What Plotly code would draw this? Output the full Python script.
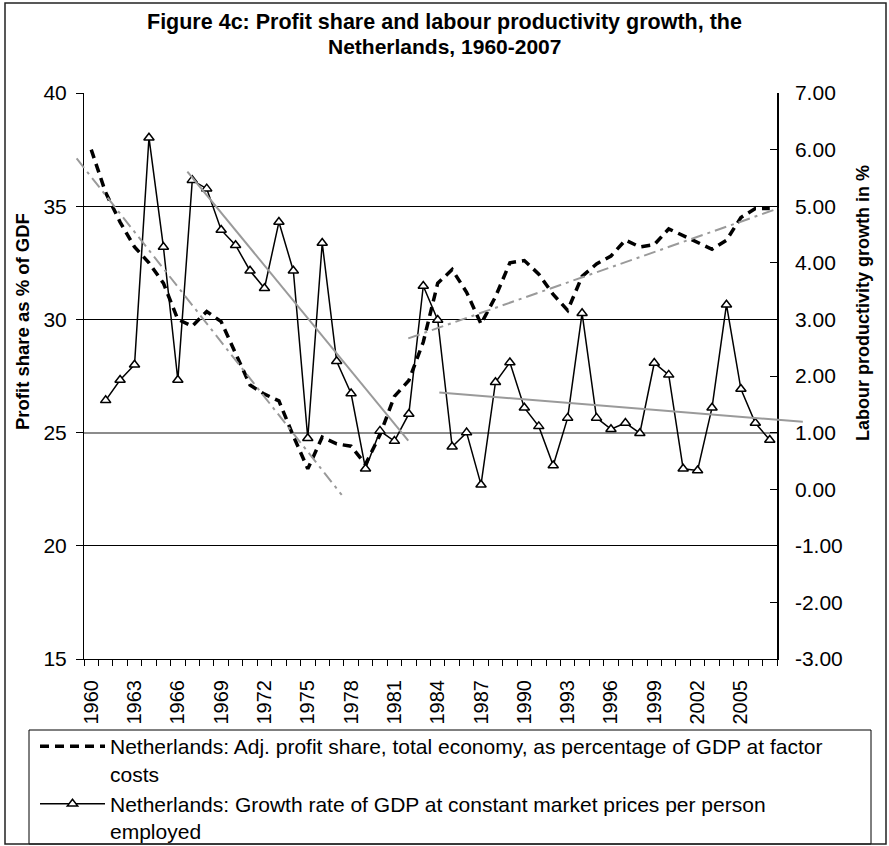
import plotly.graph_objects as go

# ---------------- data ----------------
years = list(range(1960, 2008))
profit_share = [37.5, 35.6, 34.3, 33.2, 32.5, 31.6, 30.0, 29.7, 30.35, 29.9,
                28.5, 27.1, 26.7, 26.4, 24.85, 23.4, 24.8, 24.5, 24.4, 23.6,
                24.9, 26.6, 27.3, 29.0, 31.6, 32.2, 31.2, 29.8, 31.0, 32.5,
                32.6, 32.0, 31.1, 30.4, 31.9, 32.45, 32.8, 33.5, 33.2, 33.3,
                34.0, 33.7, 33.4, 33.1, 33.5, 34.5, 34.9, 34.9]
productivity_growth = [None, 1.57, 1.93, 2.20, 6.21, 4.28, 1.93, 5.46, 5.31, 4.58,
                       4.31, 3.86, 3.55, 4.72, 3.86, 0.90, 4.35, 2.26, 1.69, 0.36,
                       1.03, 0.85, 1.33, 3.59, 2.99, 0.75, 1.00, 0.08, 1.89, 2.24,
                       1.44, 1.11, 0.42, 1.26, 3.11, 1.26, 1.06, 1.17, 0.99, 2.23,
                       2.02, 0.36, 0.33, 1.44, 3.26, 1.77, 1.17, 0.87]
tick_years = list(range(1960, 2006, 3))
tick_labels = [str(y) for y in tick_years]
left_ticks = [15, 20, 25, 30, 35, 40]
black_grid = [20, 30, 35]
gray_grid = [25, 40]
right_ticks = [-3, -2, -1, 0, 1, 2, 3, 4, 5, 6, 7]
right_tick_labels = ["%.2f" % v for v in right_ticks]   # plain hyphen minus, as in the reference

# trend lines (end points)
trend_profit_early_x = [1958.99, 1977.35]
trend_profit_early_y = [37.11, 22.25]
trend_growth_early_x = [1966.66, 1981.96]
trend_growth_early_y = [5.61, 0.86]
trend_profit_late_x = [1981.96, 2007.59]
trend_profit_late_y = [29.16, 34.90]
trend_growth_late_x = [1984.11, 2009.29]
trend_growth_late_y = [1.71, 1.19]

title_lines = ["Figure 4c: Profit share and labour productivity growth, the",
               "Netherlands, 1960-2007"]
name_profit = "Netherlands: Adj. profit share, total economy, as percentage of GDP at factor<br>costs"
name_growth = "Netherlands: Growth rate of GDP at constant market prices per person<br>employed"

# ---------------- layout geometry ----------------
W, H = 889, 846
ML, MR, MT, MB = 60, 70, 93, 187
PX0, PX1 = 84, 777            # main plot area (pixels)
PW = W - ML - MR
PH = H - MT - MB


def fx(px):
    return (px - ML) / PW


def fy(py):
    return (H - MB - py) / PH


X_RANGE = [1959.5, 2007.5]
Y_LEFT = [15, 40]
Y_RIGHT = [-3, 7]
per_year = (PX1 - PX0) / (X_RANGE[1] - X_RANGE[0])
wide_range = [X_RANGE[0] - (PX0 - ML) / per_year,
              X_RANGE[1] + (W - MR - PX1) / per_year]

FONT = "Arial, Liberation Sans, sans-serif"
GRAY = "#9a9a9a"

fig = go.Figure()

# empty helper traces so that the grid-only overlay axes get drawn
for ax in ("y5", "y6"):
    fig.add_trace(go.Scatter(x=[], y=[], xaxis="x", yaxis=ax, showlegend=False,
                             hoverinfo="skip", mode="lines"))

# trend lines on a slightly wider invisible subplot (they overhang the axes)
fig.add_trace(go.Scatter(x=trend_profit_early_x, y=trend_profit_early_y, xaxis="x3", yaxis="y3",
                         mode="lines", line=dict(color=GRAY, width=2, dash="12px,5px,3px,5px"),
                         showlegend=False, hoverinfo="skip"))
fig.add_trace(go.Scatter(x=trend_profit_late_x, y=trend_profit_late_y, xaxis="x3", yaxis="y3",
                         mode="lines", line=dict(color=GRAY, width=2, dash="12px,5px,3px,5px"),
                         showlegend=False, hoverinfo="skip"))
fig.add_trace(go.Scatter(x=trend_growth_early_x, y=trend_growth_early_y, xaxis="x3", yaxis="y4",
                         mode="lines", line=dict(color=GRAY, width=2),
                         showlegend=False, hoverinfo="skip"))
fig.add_trace(go.Scatter(x=trend_growth_late_x, y=trend_growth_late_y, xaxis="x3", yaxis="y4",
                         mode="lines", line=dict(color=GRAY, width=2),
                         showlegend=False, hoverinfo="skip"))

# main series
fig.add_trace(go.Scatter(x=years, y=profit_share, xaxis="x", yaxis="y", name=name_profit,
                         mode="lines", line=dict(color="black", width=3.5, dash="9px,6px")))
fig.add_trace(go.Scatter(x=years, y=productivity_growth, xaxis="x", yaxis="y2", name=name_growth,
                         mode="lines+markers", line=dict(color="black", width=1.5),
                         marker=dict(symbol="triangle-up", size=9, color="white",
                                     line=dict(color="black", width=1.5)),
                         connectgaps=False))

annotations = [
    dict(text="<b>%s</b>" % title_lines[0], xref="paper", yref="paper",
         x=fx(444.5), y=fy(21.5), xanchor="center", yanchor="middle", showarrow=False,
         font=dict(size=21.5, family=FONT, color="black")),
    dict(text="<b>%s</b>" % title_lines[1], xref="paper", yref="paper",
         x=fx(444.5), y=fy(46), xanchor="center", yanchor="middle", showarrow=False,
         font=dict(size=21, family=FONT, color="black")),
    dict(text="<b>Profit share as % of GDF</b>", textangle=-90,
         xref="paper", yref="paper", x=fx(22), y=fy(322),
         xanchor="center", yanchor="middle", showarrow=False,
         font=dict(size=18.5, family=FONT, color="black")),
    dict(text="<b>Labour productivity growth in %</b>", textangle=-90,
         xref="paper", yref="paper", x=fx(863), y=fy(303),
         xanchor="center", yanchor="middle", showarrow=False,
         font=dict(size=18, family=FONT, color="black")),
]

grid_axis = dict(overlaying="y", anchor="x", range=Y_LEFT, tickmode="array",
                 ticks="", showticklabels=False, showline=False, zeroline=False)

fig.update_layout(
    width=W, height=H,
    margin=dict(l=ML, r=MR, t=MT, b=MB, pad=0, autoexpand=False),
    paper_bgcolor="white",
    plot_bgcolor="rgba(0,0,0,0)",
    font=dict(family=FONT, color="black"),
    xaxis=dict(domain=[fx(PX0), fx(PX1)], range=X_RANGE, anchor="y",
               tickmode="array", tickvals=tick_years, ticktext=tick_labels,
               tickangle=-90, ticks="", tickfont=dict(size=20, family=FONT),
               ticklabelstandoff=12,
               showline=True, linecolor="black", linewidth=1, showgrid=False, zeroline=False,
               minor=dict(tick0=1959.5, dtick=1, ticks="outside", ticklen=6,
                          tickcolor="black", tickwidth=1, showgrid=False)),
    yaxis=dict(domain=[0, 1], range=Y_LEFT, anchor="x",
               tickmode="array", tickvals=left_ticks,
               ticks="outside", ticklen=7, tickcolor="black",
               tickfont=dict(size=21, family=FONT), ticklabelstandoff=5,
               showline=True, linecolor="black", linewidth=1,
               showgrid=False, zeroline=False),
    # grid-only overlay axes: thin black lines, and the two gray lines at 25 and 40
    yaxis5=dict(grid_axis, tickvals=black_grid, showgrid=True, gridcolor="black", gridwidth=1),
    yaxis6=dict(grid_axis, tickvals=gray_grid, showgrid=True, gridcolor="#8c8c8c", gridwidth=2),
    yaxis2=dict(overlaying="y", side="right", anchor="x", range=Y_RIGHT,
                tickmode="array", tickvals=right_ticks, ticktext=right_tick_labels,
                ticks="inside", ticklen=7, tickcolor="black",
                tickfont=dict(size=21, family=FONT), ticklabelstandoff=12,
                showline=True, linecolor="black", linewidth=1.5,
                showgrid=False, zeroline=False),
    xaxis3=dict(domain=[0, 1], range=wide_range, anchor="y3", visible=False),
    yaxis3=dict(domain=[0, 1], range=Y_LEFT, anchor="x3", visible=False),
    yaxis4=dict(overlaying="y3", range=Y_RIGHT, anchor="x3", visible=False),
    showlegend=True,
    legend=dict(x=fx(35), y=fy(726), xanchor="left", yanchor="top",
                bgcolor="rgba(0,0,0,0)", borderwidth=0,
                font=dict(size=21, family=FONT, color="black"),
                itemwidth=65, valign="top", tracegroupgap=0, traceorder="normal"),
    annotations=annotations,
    shapes=[
        # legend box
        dict(type="rect", xref="paper", yref="paper", x0=fx(29), x1=fx(871), y0=fy(730), y1=fy(844),
             line=dict(color="black", width=1), fillcolor="rgba(0,0,0,0)", layer="above"),
        # outer chart frame
        dict(type="rect", xref="paper", yref="paper", x0=fx(5), x1=fx(886), y0=fy(3), y1=fy(844),
             line=dict(color="#222222", width=1.5), fillcolor="rgba(0,0,0,0)", layer="above"),
    ],
)

# remove the browser's default 8px body margin so the figure fills the window exactly
fig.write_html("out.html", config={"displayModeBar": False},
               post_script="document.body.style.margin='0px';")
